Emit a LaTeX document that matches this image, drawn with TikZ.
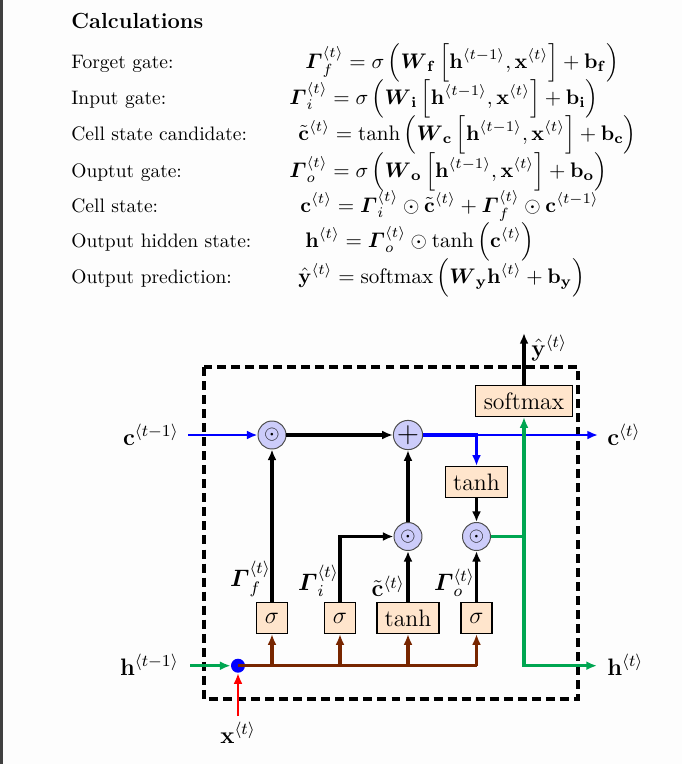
\documentclass[tikz,border=0pt]{standalone}
\usepackage{fix-cm}
\usepackage{amsmath}
\usetikzlibrary{arrows.meta}
\newlength\upx \setlength\upx{0.5128pt}
\definecolor{bgc}{RGB}{253,253,253}
\definecolor{stripc}{RGB}{64,64,64}
\definecolor{myblue}{RGB}{0,0,255}
\definecolor{mygreen}{RGB}{0,166,81}
\definecolor{mybrown}{RGB}{120,38,0}
\definecolor{myred}{RGB}{255,0,0}
\definecolor{circfill}{RGB}{204,204,250}
\definecolor{boxfill}{RGB}{255,229,204}
\newcommand\tgA{\langle t\rangle}
\newcommand\tgB{\langle t-1\rangle}
\newcommand\GamB{\boldsymbol{\varGamma}}
\begin{document}
\begin{tikzpicture}[x=1\upx,y=-1\upx,
  txt/.style={anchor=base west,inner sep=0pt},
  eqn/.style={anchor=base west,inner sep=0pt,font=\fontsize{10.8}{13}\selectfont},
  dfont/.style={font=\fontsize{12.2}{14.6}\selectfont},
  circ/.style={circle,draw=black!70,line width=0.5pt,fill=circfill,minimum size=28\upx,inner sep=0pt},
  gbox/.style={rectangle,draw=black,line width=0.6pt,fill=boxfill,minimum height=31\upx,minimum width=31\upx,inner sep=0pt,dfont},
  arr/.style={-{Latex[length=5.5pt,width=4.6pt]}},
  blk/.style={arr,line width=1.7pt,black},
  lbl/.style={dfont,inner sep=1pt}
]
\fill[bgc] (0,0) rectangle (682,764);
\fill[stripc] (0,0) rectangle (3,764);
\useasboundingbox (0,0) rectangle (682,764);

% ---------- calculations ----------
\node[txt,font=\fontsize{11.2}{13}\selectfont\bfseries] (title) at (71,28) {Calculations};
\node[txt] (l1) at (71,68) {Forget gate:};
\node[txt] (l2) at (71,104) {Input gate:};
\node[txt] (l3) at (71,140) {Cell state candidate:};
\node[txt] (l4) at (71,177) {Ouptut gate:};
\node[txt] (l5) at (71,212) {Cell state:};
\node[txt] (l6) at (71,247) {Output hidden state:};
\node[txt] (l7) at (71,283) {Output prediction:};

\node[eqn] (e1) at (305,68) {$\displaystyle \GamB_f^{\tgA}=\sigma\left(\boldsymbol{W}_{\mathbf{f}}\left[\mathbf{h}^{\tgB},\mathbf{x}^{\tgA}\right]+\mathbf{b}_{\mathbf{f}}\right)$};
\node[eqn] (e2) at (289,104) {$\displaystyle \GamB_i^{\tgA}=\sigma\left(\boldsymbol{W}_{\mathbf{i}}\left[\mathbf{h}^{\tgB},\mathbf{x}^{\tgA}\right]+\mathbf{b}_{\mathbf{i}}\right)$};
\node[eqn] (e3) at (298,140) {$\displaystyle \tilde{\mathbf{c}}^{\tgA}=\tanh\left(\boldsymbol{W}_{\mathbf{c}}\left[\mathbf{h}^{\tgB},\mathbf{x}^{\tgA}\right]+\mathbf{b}_{\mathbf{c}}\right)$};
\node[eqn] (e4) at (289,177) {$\displaystyle \GamB_o^{\tgA}=\sigma\left(\boldsymbol{W}_{\mathbf{o}}\left[\mathbf{h}^{\tgB},\mathbf{x}^{\tgA}\right]+\mathbf{b}_{\mathbf{o}}\right)$};
\node[eqn] (e5) at (300,212) {$\displaystyle \mathbf{c}^{\tgA}=\GamB_i^{\tgA}\odot\tilde{\mathbf{c}}^{\tgA}+\GamB_f^{\tgA}\odot\mathbf{c}^{\tgB}$};
\node[eqn] (e6) at (305,247) {$\displaystyle \mathbf{h}^{\tgA}=\GamB_o^{\tgA}\odot\tanh\left(\mathbf{c}^{\tgA}\right)$};
\node[eqn] (e7) at (298,283) {$\displaystyle \hat{\mathbf{y}}^{\tgA}=\mathrm{softmax}\left(\boldsymbol{W}_{\mathbf{y}}\mathbf{h}^{\tgA}+\mathbf{b}_{\mathbf{y}}\right)$};

% ---------- diagram ----------
\draw[line width=2pt,dash pattern=on 4.6pt off 2.6pt] (204,367) rectangle (578,699);

\node[circ] (f1) at (272,435) {\fontsize{10}{12}\selectfont$\odot$};
\node[circ] (pl) at (408,435) {\fontsize{15}{17}\selectfont$+$};
\node[circ] (m1) at (408,536.5) {\fontsize{10}{12}\selectfont$\odot$};
\node[circ] (m2) at (476.5,536.5) {\fontsize{10}{12}\selectfont$\odot$};

\node[gbox,minimum width=62\upx] (tu) at (476.5,482) {tanh};
\node[gbox,minimum width=97\upx] (sm) at (524,401) {softmax};
\node[gbox] (s1) at (272,618) {$\sigma$};
\node[gbox] (s2) at (340,618) {$\sigma$};
\node[gbox,minimum width=62\upx] (tl) at (408,618) {tanh};
\node[gbox] (s3) at (476.5,618) {$\sigma$};

\node[circle,fill=myblue,minimum size=14\upx,inner sep=0pt] (dot) at (238,665.7) {};

\coordinate (cin) at (188,435);
\coordinate (cout) at (598,435);
\coordinate (hin) at (190,665.7);
\coordinate (hout) at (597,665.7);
\coordinate (xin) at (238,716);
\coordinate (yout) at (524,333);
\coordinate (bx) at (476.5,435);
\coordinate (g1) at (524,536.5);
\coordinate (g2) at (524,665.7);
\coordinate (br) at (476.5,665.7);

% labels
\node[lbl,anchor=east] (lc0) at (181,435) {$\mathbf{c}^{\tgB}$};
\node[lbl,anchor=east] (lh0) at (181,665) {$\mathbf{h}^{\tgB}$};
\node[lbl,anchor=west] (lc1) at (605,435) {$\mathbf{c}^{\tgA}$};
\node[lbl,anchor=west] (lh1) at (605,665) {$\mathbf{h}^{\tgA}$};
\node[lbl,anchor=north] (lx) at (238,720) {$\mathbf{x}^{\tgA}$};
\node[lbl,anchor=west] (ly) at (529,348) {$\hat{\mathbf{y}}^{\tgA}$};
\node[lbl,anchor=south east] (gf) at (273,599) {$\GamB_f^{\tgA}$};
\node[lbl,anchor=south east] (gi) at (341,599) {$\GamB_i^{\tgA}$};
\node[lbl,anchor=south east] (gc) at (407,599) {$\tilde{\mathbf{c}}^{\tgA}$};
\node[lbl,anchor=south east] (go) at (477,599) {$\GamB_o^{\tgA}$};

% brown input bus
\draw[mybrown,line width=1.6pt] (dot.center) -- (br);
\foreach \b in {s1,s2,tl,s3}
  \draw[arr,mybrown,line width=1.6pt] (\b.south |- br) -- (\b.south);

% inputs
\draw[arr,mygreen,line width=1.6pt] (hin) -- (dot.west);
\draw[arr,myred,line width=1.3pt] (xin) -- (dot.south);

% gates up
\draw[blk] (s1.north) -- (f1.south);
\draw[blk] (s2.north) |- (m1.west);
\draw[blk] (tl.north) -- (m1.south);
\draw[blk] (s3.north) -- (m2.south);
\draw[blk] (m1.north) -- (pl.south);
\draw[blk] (tu.south) -- (m2.north);

% cell state line
\draw[arr,myblue,line width=1.3pt] (cin) -- (f1.west);
\draw[blk] (f1.east) -- (pl.west);
\draw[arr,myblue,line width=1.2pt] (pl.east) -- (cout);
\draw[arr,myblue,line width=1.7pt] (pl.east) -- (bx) -- (tu.north);

% hidden output
\draw[arr,mygreen,line width=1.7pt] (m2.east) -- (g1) -- (sm.south);
\draw[arr,mygreen,line width=1.7pt] (g1) -- (g2) -- (hout);
\draw[blk] (sm.north) -- (yout);
\end{tikzpicture}
\end{document}
